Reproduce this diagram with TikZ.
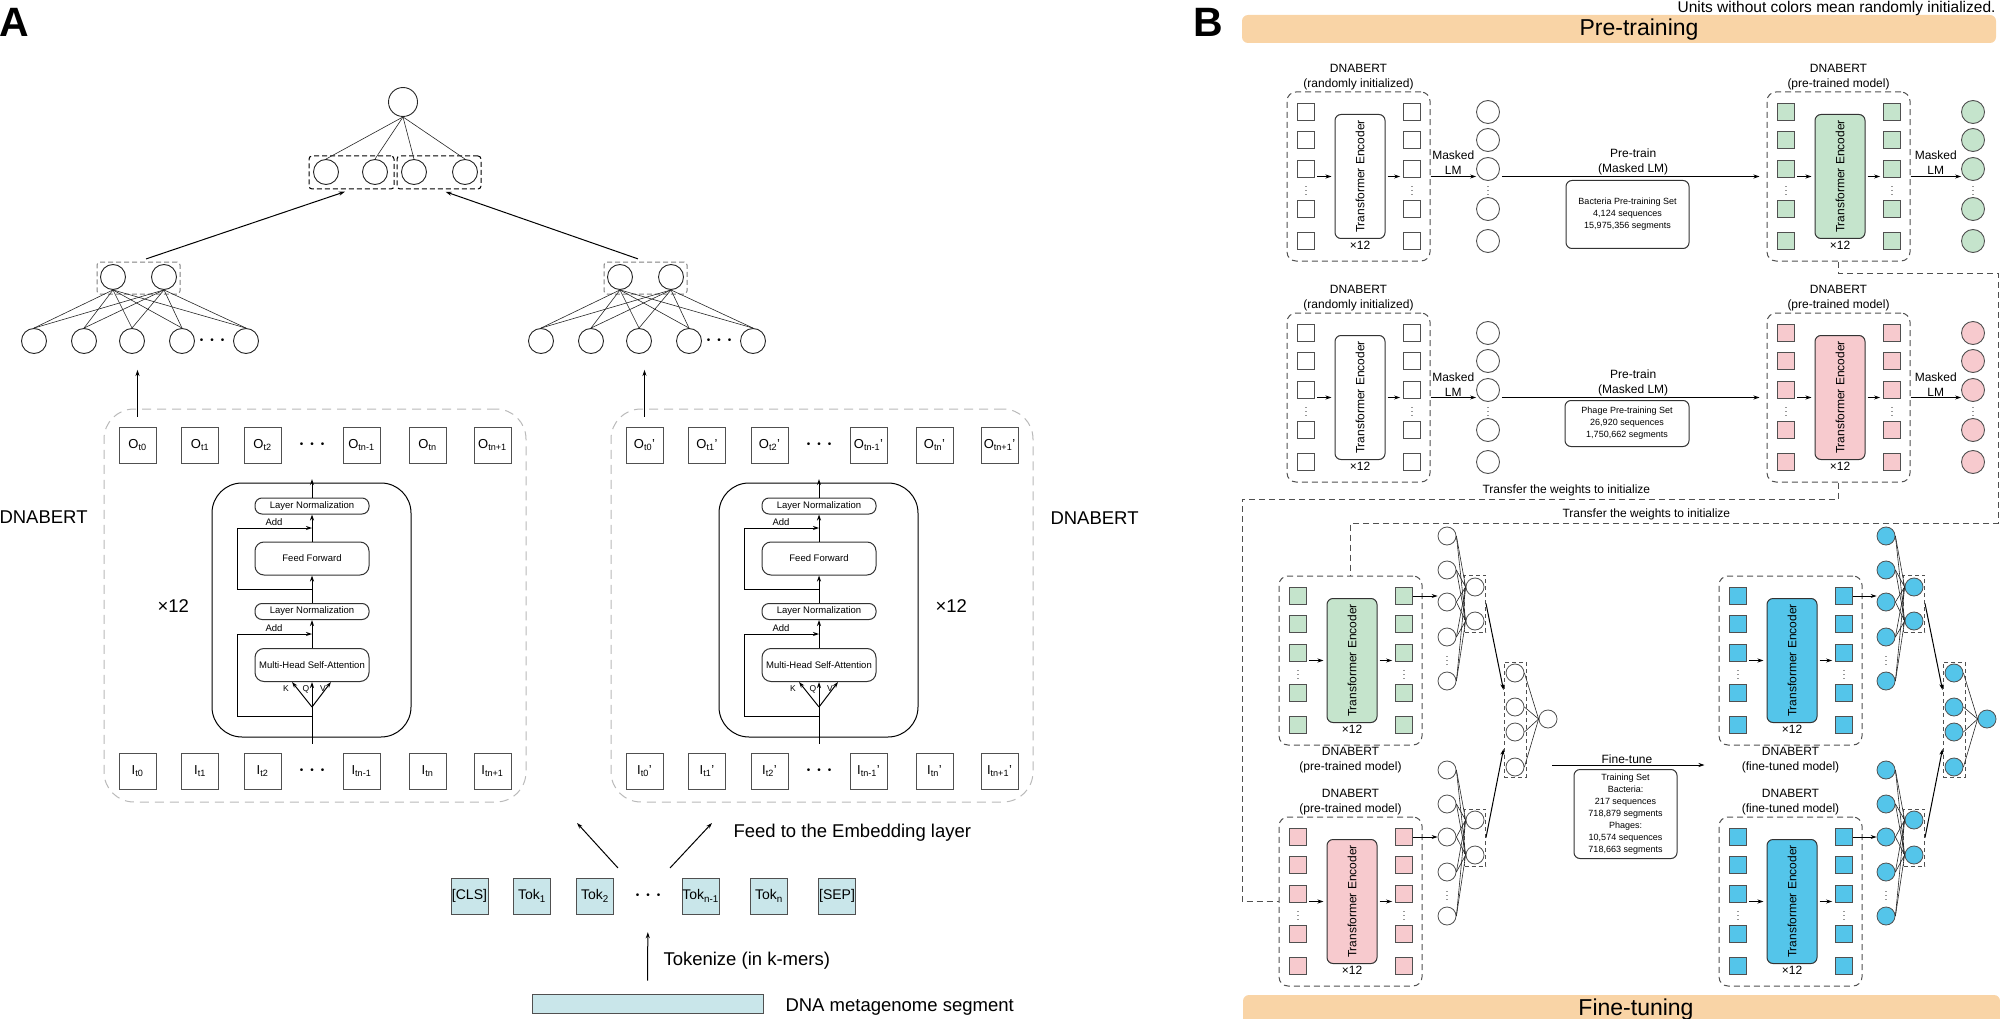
\documentclass[tikz,border=0pt]{standalone}
\usepackage{fontspec}
\setmainfont{Liberation Sans}
\usetikzlibrary{positioning,calc,arrows.meta}

\definecolor{barorange}{RGB}{249,212,166}
\definecolor{ptgreen}{RGB}{197,228,204}
\definecolor{ptpink}{RGB}{247,202,206}
\definecolor{ftblue}{RGB}{84,197,234}
\definecolor{tokcyan}{RGB}{201,230,234}
\definecolor{lgray}{RGB}{185,185,185}
\definecolor{dgray}{RGB}{80,80,80}

\newcommand{\rowdots}{\textbullet\hspace{7pt}\textbullet\hspace{7pt}\textbullet}

\tikzset{
  neuron/.style={circle,draw=black!85,line width=0.9pt,minimum size=25pt,inner sep=0pt},
  treeline/.style={line width=0.6pt,draw=black!85},
  netline/.style={line width=0.6pt,draw=black!85},
  grp/.style={draw=black,dash pattern=on 5pt off 3pt,rounded corners=3pt,inner sep=0pt},
  grpgray/.style={draw=black!50,dash pattern=on 5pt off 3pt,rounded corners=3pt,inner sep=0pt},
  abox/.style={draw=lgray,dash pattern=on 9pt off 6pt,rounded corners=30pt,inner sep=0pt},
  obox/.style={draw=dgray,minimum width=37pt,minimum height=36pt,inner sep=0pt,font=\fontsize{13}{15}\selectfont},
  tok/.style={obox,fill=tokcyan,font=\fontsize{14}{16}\selectfont},
  tblock/.style={draw=black,rounded corners=30pt,inner sep=0pt},
  lnbox/.style={draw=black!80,rounded corners=7pt,minimum width=114pt,minimum height=16pt,inner sep=0pt,font=\fontsize{9.5}{11}\selectfont},
  ffbox/.style={lnbox,rounded corners=9pt,minimum height=33pt},
  addlbl/.style={inner sep=0pt,font=\fontsize{9.5}{11}\selectfont},
  kqv/.style={inner sep=0pt,font=\fontsize{8.5}{10}\selectfont},
  biglbl/.style={inner sep=0pt,font=\fontsize{18.5}{22}\selectfont},
  panellbl/.style={inner sep=0pt,font=\fontsize{41}{41}\selectfont\bfseries},
  orangebar/.style={fill=barorange,rounded corners=6pt,inner sep=0pt},
  dbox/.style={draw=dgray,dash pattern=on 6pt off 4pt,rounded corners=9pt,minimum width=143pt,minimum height=169pt,inner sep=0pt},
  sq/.style={draw=dgray,line width=0.9pt,minimum size=17pt,inner sep=0pt},
  enc/.style={draw=black!80,rounded corners=6pt,minimum width=124pt,minimum height=50pt,inner sep=0pt,rotate=90,font=\fontsize{12}{14}\selectfont},
  outunit/.style={circle,draw=dgray,line width=0.9pt,minimum size=23pt,inner sep=0pt},
  sunit/.style={circle,draw=dgray,line width=0.8pt,minimum size=18pt,inner sep=0pt},
  btext/.style={align=center,inner sep=1pt,font=\fontsize{12}{15}\selectfont},
  setbox/.style={draw=black!80,rounded corners=6pt,align=center,inner sep=2pt,font=\fontsize{9}{12}\selectfont},
  vdot/.style={inner sep=0pt,font=\fontsize{9}{9}\selectfont},
  trline/.style={draw=dgray,dash pattern=on 6pt off 4pt},
  netbox/.style={draw=dgray,dash pattern=on 4pt off 3pt,inner sep=0pt},
}

\begin{document}
\begin{tikzpicture}[x=1pt,y=-1pt,line width=1pt,>={Stealth[length=6pt,width=4pt]}]
\useasboundingbox (0,0) rectangle (2000,1019);

% ---------------- panel A ----------------
\node[panellbl,anchor=base west] (labA) at (-1,37) {A};

% top of the hierarchy
\node[neuron,minimum size=29pt] (root) at (403,102) {};
\foreach \x [count=\i] in {326,375,414,465}
  \node[neuron] (top\i) at (\x,172) {};
\node[grp,minimum width=85pt,minimum height=33pt] (gL) at (351.5,172.5) {};
\node[grp,minimum width=84pt,minimum height=33pt] (gR) at (439,172.5) {};
\foreach \i in {1,...,4}
  \draw[treeline] (root.south) -- (top\i.north);

% the two DNABERT branches
\foreach \side/\dx/\pr in {L/0/{},R/507/'}{
  \node[neuron] (m\side1) at (113+\dx,277) {};
  \node[neuron] (m\side2) at (164+\dx,277) {};
  \node[grpgray,minimum width=83pt,minimum height=32pt] (mb\side) at (138.5+\dx,278) {};
  \foreach \x [count=\i] in {34,84,132,182,246}
    \node[neuron] (b\side\i) at (\x+\dx,341) {};
  \node (bd\side) at (212+\dx,341) {\rowdots};
  \foreach \m in {1,2}
    \foreach \i in {1,...,5}
      \draw[treeline] (m\side\m.south) -- (b\side\i.north);

  \node[abox,minimum width=422pt,minimum height=393pt] (dn\side) at (315+\dx,605.5) {};
  \foreach \x/\lab [count=\i] in {137.5/t0,200/t1,262.5/t2,361.5/tn-1,427.5/tn,492.5/tn+1}{
    \node[obox] (o\side\i) at (\x+\dx,445) {O\textsubscript{\lab}\pr};
    \node[obox] (i\side\i) at (\x+\dx,771) {I\textsubscript{\lab}\pr};
  }
  \node (od\side) at (312+\dx,445) {\rowdots};
  \node (id\side) at (312+\dx,771) {\rowdots};
  \draw[->,shorten <=10pt,shorten >=16pt] (o\side1.north) -- (o\side1.north |- b\side3.south);

  % encoder layer
  \node[tblock,minimum width=199pt,minimum height=254pt] (tb\side) at (311.5+\dx,610) {};
  \node[lnbox] (lna\side) at (312+\dx,506) {Layer Normalization};
  \node[ffbox] (ff\side) at (312+\dx,558.5) {Feed Forward};
  \node[lnbox] (lnb\side) at (312+\dx,611.5) {Layer Normalization};
  \node[ffbox] (mh\side) at (312+\dx,665) {Multi-Head Self-Attention};
  \coordinate (fk\side) at (312+\dx,707);
  \draw[->,shorten >=28pt] (lna\side.north) -- (od\side);
  \draw[->] (ff\side.north) -- (lna\side.south);
  \draw[->] (lnb\side.north) -- (ff\side.south);
  \draw[->] (mh\side.north) -- (lnb\side.south);
  \draw[shorten <=21pt] (id\side) -- (fk\side);
  \draw[->] (fk\side) -- ([xshift=-20pt]mh\side.south);
  \draw[->] (fk\side) -- (mh\side.south);
  \draw[->] (fk\side) -- ([xshift=19pt]mh\side.south);
  \draw[->] ($(fk\side)+(0,9)$) -- ++(-75,0) |- ($(mh\side.north)!0.5!(lnb\side.south)$);
  \draw[->] ($(lnb\side.north)!0.5!(ff\side.south)$) -- ++(-75,0) |- ($(ff\side.north)!0.5!(lna\side.south)$);
  \node[addlbl] at (274+\dx,522) {Add};
  \node[addlbl] at (274+\dx,628) {Add};
  \node[kqv] at (286+\dx,689) {K};
  \node[kqv] at (306+\dx,689) {Q};
  \node[kqv] at (323+\dx,689) {V};
}
\draw[->,shorten <=8pt,shorten >=7pt] (mbL.north) -- (gL.south);
\draw[->,shorten <=8pt,shorten >=7pt] (mbR.north) -- (gR.south);

\node[biglbl,anchor=base west] (x12L) at (157,612) {×12};
\node[biglbl,anchor=base west] (x12R) at (935,612) {×12};
\node[biglbl,anchor=base west] (nmL) at (-1,523) {DNABERT};
\node[biglbl,anchor=base west] (nmR) at (1050,524) {DNABERT};

% tokens
\node[tok] (tk1) at (469.5,896) {[CLS]};
\node[tok] (tk2) at (532,896) {Tok\textsubscript{1}};
\node[tok] (tk3) at (595,896) {Tok\textsubscript{2}};
\node (tkd) at (648,896) {\rowdots};
\node[tok] (tk4) at (700.5,896) {Tok\textsubscript{n-1}};
\node[tok] (tk5) at (769,896) {Tok\textsubscript{n}};
\node[tok] (tk6) at (837,896) {[SEP]};
\node[draw=dgray,fill=tokcyan,minimum width=231pt,minimum height=19pt,inner sep=0pt] (dna) at (647.5,1003.5) {};
\coordinate (fa1) at (618,868); \coordinate (fa2) at (577,823);
\coordinate (fb1) at (670,868); \coordinate (fb2) at (712,823);
\draw[->] (fa1) -- (fa2);
\draw[->] (fb1) -- (fb2);
\draw[->,shorten <=13pt,shorten >=30pt] (dna.north) -- (tkd);
\node[biglbl,anchor=base west] (feed) at (733,837) {Feed to the Embedding layer};
\node[biglbl,anchor=base west] (tokz) at (663,965) {Tokenize (in k-mers)};
\node[biglbl,anchor=base west] (dnat) at (785,1011) {DNA metagenome segment};

% ---------------- panel B ----------------
\node[panellbl,anchor=base west] (labB) at (1193,37) {B};
\node[orangebar,minimum width=754pt,minimum height=28pt] (ptbar) at (1619,29) {};
\node[inner sep=0pt,anchor=base,font=\fontsize{23}{23}\selectfont] at (1639,36) {Pre-training};
\node[orangebar,minimum width=757pt,minimum height=30pt] (ftbar) at (1621.5,1010) {};
\node[inner sep=0pt,anchor=base,font=\fontsize{23}{23}\selectfont] at (1636,1015.5) {Fine-tuning};
\node[inner sep=0pt,anchor=base east,font=\fontsize{15.5}{17}\selectfont] (note) at (1996,12.5) {Units without colors mean randomly initialized.};

% DNABERT units
\foreach \n/\bx/\by/\col in {ra/1287/92/white,pg/1767/92/ptgreen,rb/1287/313/white,pp/1767/313/ptpink,
                             fg/1279/576/ptgreen,fp/1279/817/ptpink,bg/1719/576/ftblue,bp/1719/817/ftblue}{
  \node[dbox] (\n) at (\bx+71.5,\by+84.5) {};
  \foreach \r/\dy in {1/20,2/48,3/77,4/117,5/149}{
    \node[sq,fill=\col] (\n L\r) at (\bx+19,\by+\dy) {};
    \node[sq,fill=\col] (\n R\r) at (\bx+125,\by+\dy) {};
  }
  \node[vdot] at (\bx+19,\by+96) {$\vdots$};
  \node[vdot] at (\bx+125,\by+96) {$\vdots$};
  \node[enc,fill=\col] (\n E) at (\bx+73,\by+84.5) {Transformer Encoder};
  \node[btext] at (\bx+73,\by+153) {×12};
  \draw[->,shorten <=2pt,shorten >=3pt] (\n L3.east |- \n E.north) -- (\n E.north);
  \draw[->,shorten <=2pt,shorten >=3pt] (\n E.south) -- (\n R3.west |- \n E.south);
}
\node[btext,anchor=south] at (ra.north) {DNABERT\\(randomly initialized)};
\node[btext,anchor=south] at (rb.north) {DNABERT\\(randomly initialized)};
\node[btext,anchor=south] at (pg.north) {DNABERT\\(pre-trained model)};
\node[btext,anchor=south] at (pp.north) {DNABERT\\(pre-trained model)};
\node[btext,anchor=north] at (fg.south) {DNABERT\\(pre-trained model)};
\node[btext,anchor=south] at (fp.north) {DNABERT\\(pre-trained model)};
\node[btext,anchor=north] at (bg.south) {DNABERT\\(fine-tuned model)};
\node[btext,anchor=south] at (bp.north) {DNABERT\\(fine-tuned model)};

% masked LM outputs
\foreach \n/\cx/\by/\col in {ra/1488/92/white,pg/1973/92/ptgreen,rb/1488/313/white,pp/1973/313/ptpink}{
  \foreach \r/\dy in {1/20,2/48,3/77,4/117,5/149}
    \node[outunit,fill=\col] (\n C\r) at (\cx,\by+\dy) {};
  \node[vdot] at (\cx,\by+96) {$\vdots$};
  \draw[->] (\n.east) -- (\n.east -| \n C3.west) node[midway,above,btext] {Masked\\LM};
}

% pre-training arrows
\draw[->,shorten <=2pt,shorten >=7pt] (raC3.east |- ra.east) -- (pg.west) node[midway,above,btext] {Pre-train\\(Masked LM)};
\draw[->,shorten <=2pt,shorten >=7pt] (rbC3.east |- rb.east) -- (pp.west) node[midway,above,btext] {Pre-train\\(Masked LM)};
\node[setbox,anchor=north,minimum width=123pt,minimum height=68pt] (bset) at (1627.5,180) {Bacteria Pre-training Set\\4,124 sequences\\15,975,356 segments};
\node[setbox,anchor=north,minimum width=124pt,minimum height=46pt] (pset) at (1627,400) {Phage Pre-training Set\\26,920 sequences\\1,750,662 segments};

% weight transfer
\draw[trline] (pg.south) |- (1998,273) -- (1998,523) -| (fg.north);
\draw[trline] (pp.south) |- (1242,499) |- (fp.west);
\node[btext,anchor=base west,inner sep=0pt] at (1482,493) {Transfer the weights to initialize};
\node[btext,anchor=base west,inner sep=0pt] at (1562,517) {Transfer the weights to initialize};

% classifier heads
\foreach \n/\dx/\col in {g/0/white,b/439/ftblue}{
  \foreach \y [count=\i] in {536,570,602,637,681}
    \node[sunit,fill=\col] (\n a\i) at (1447+\dx,\y) {};
  \foreach \y [count=\i] in {770,804,837,872,916}
    \node[sunit,fill=\col] (\n c\i) at (1447+\dx,\y) {};
  \node[vdot] at (1447+\dx,658) {$\vdots$};
  \node[vdot] at (1447+\dx,893) {$\vdots$};
  \node[sunit,fill=\col] (\n b1) at (1475+\dx,587) {};
  \node[sunit,fill=\col] (\n b2) at (1475+\dx,621) {};
  \node[sunit,fill=\col] (\n d1) at (1475+\dx,820) {};
  \node[sunit,fill=\col] (\n d2) at (1475+\dx,855) {};
  \node[netbox,minimum width=21pt,minimum height=57pt] (\n B) at (1475+\dx,603.5) {};
  \node[netbox,minimum width=21pt,minimum height=57pt] (\n D) at (1475+\dx,837.5) {};
  \foreach \y [count=\i] in {673,707,732,767}
    \node[sunit,fill=\col] (\n e\i) at (1515+\dx,\y) {};
  \node[netbox,minimum width=22pt,minimum height=115pt] (\n E) at (1515+\dx,719.5) {};
  \node[sunit,fill=\col] (\n o) at (1548+\dx,719) {};
  \foreach \i in {1,...,5}
    \foreach \j in {1,2}{
      \draw[netline] (\n a\i.east) -- (\n b\j.west);
      \draw[netline] (\n c\i.east) -- (\n d\j.west);
    }
  \foreach \i in {1,...,4}
    \draw[netline] (\n e\i.east) -- (\n o.west);
  \draw[->] (\n B.east) -- ([yshift=29.5pt]\n E.west);
  \draw[->] (\n D.east) -- ([yshift=-29.5pt]\n E.west);
}
\draw[->] (fgR1.east) -- (fgR1.east -| ga3.west);
\draw[->] (fpR1.east) -- (fpR1.east -| gc3.west);
\draw[->] (bgR1.east) -- (bgR1.east -| ba3.west);
\draw[->] (bpR1.east) -- (bpR1.east -| bc3.west);

% fine-tuning step
\coordinate (ftA) at (1552,765);
\draw[->,shorten >=14pt] (ftA) -- (bg.west |- ftA) node[pos=0.45,above,btext] {Fine-tune};
\node[setbox,anchor=north,minimum width=103pt,minimum height=89pt] (tset) at (1625.5,769)
  {Training Set\\Bacteria:\\217 sequences\\718,879 segments\\Phages:\\10,574 sequences\\718,663 segments};
\end{tikzpicture}
\end{document}
